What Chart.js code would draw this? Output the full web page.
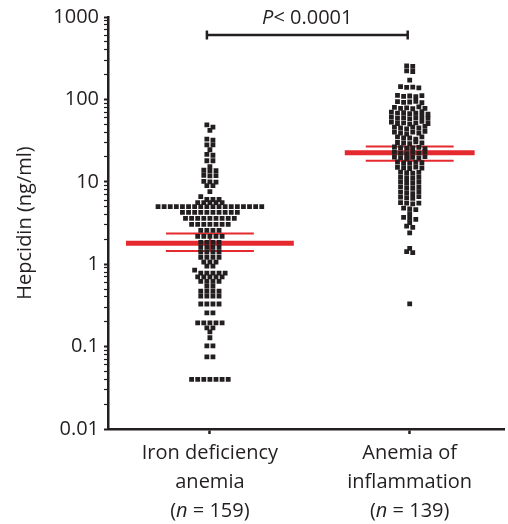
<!DOCTYPE html>
<html>
<head>
<meta charset="utf-8">
<style>
  html, body { margin: 0; padding: 0; background: #ffffff; }
  #wrap { width: 508px; height: 524px; position: relative; }
</style>
<script src="https://cdn.jsdelivr.net/npm/chart.js@4/dist/chart.umd.min.js"></script>
</head>
<body>
<div id="wrap"><canvas id="c" width="508" height="524"></canvas></div>
<script>
// ---------------- data ----------------
const categories = ['Iron deficiency anemia', 'Anemia of inflammation'];
const categoryLines = [['Iron deficiency', 'anemia'], ['Anemia of', 'inflammation']];
const groupN = [159, 139];

// Hepcidin (ng/ml), iron deficiency anemia (n = 159)
const ironDeficiency = [
  49, 46, 42, 33, 32, 28, 28, 24.5, 21.5, 21, 18, 18, 15.3,
  13.8, 13.6, 13.7, 12, 11.8, 11.9, 10.1, 10, 9.9, 9, 9, 7.6, 6.6,
  6.1, 6.1, 6.1, 5.6, 5.6, 5.6, 5.6, 5.6,
  5, 5, 5, 5, 5, 5, 5, 5, 5, 5, 5, 5, 5, 5, 5, 5, 5, 5,
  4.25, 4.25, 4.25, 4.25, 4.25, 4.25, 4.25, 4.25, 4.25, 4.25,
  3.59, 3.59, 3.59, 3.59, 3.59, 3.59, 3.59, 3.59, 3.59,
  3.04, 3.04, 3.04, 3.04, 3.04, 3.04, 3.04,
  2.57, 2.57, 2.57, 2.57,
  2.18, 2.18, 2.18, 2.18, 2.18,
  1.84, 1.84, 1.84, 1.84,
  1.6, 1.6, 1.6, 1.6,
  1.4, 1.4, 1.4, 1.4,
  1.21, 1.21, 1.21, 1.21,
  1.06, 1.06, 1.06,
  0.946, 0.946, 0.846,
  0.778, 0.778, 0.778, 0.778, 0.778,
  0.7, 0.7, 0.7, 0.7, 0.7,
  0.62, 0.62, 0.62, 0.62,
  0.542, 0.542,
  0.472, 0.472, 0.472, 0.472,
  0.411, 0.411, 0.411, 0.411,
  0.329, 0.329, 0.329, 0.329,
  0.256, 0.256,
  0.194, 0.194, 0.194, 0.194, 0.194,
  0.169, 0.169, 0.151, 0.128, 0.102, 0.102, 0.075, 0.075,
  0.04, 0.04, 0.04, 0.04, 0.04, 0.04, 0.04
];

// Hepcidin (ng/ml), anemia of inflammation (n = 139)
const inflammation = [
  255, 251, 222, 218, 171,
  143, 140, 141, 138,
  112, 109, 110, 108, 111,
  94, 92, 93, 95, 91,
  80, 78, 79, 77, 81, 78,
  70, 68, 69, 67, 68, 71, 66,
  61, 59, 60, 58, 60, 62, 59,
  53, 51, 52, 50, 52, 54, 51,
  46, 45, 44, 46, 45, 47,
  40, 39, 38, 40, 39, 41,
  35, 34, 34, 33, 35,
  30, 29.5, 29, 30.5, 29.7,
  26.5, 26, 25.5, 25.8, 26.2, 25.3,
  23, 22.5, 22, 22.8, 22.3, 23.2,
  20, 19.6, 19.2, 19.8, 19.4, 20.2,
  17.4, 17, 16.8, 17.2, 17.1,
  15, 14.8, 14.5, 15.1, 14.7,
  13.1, 12.9, 12.7, 13,
  11.4, 11.2, 11, 11.3,
  10, 9.8, 9.6, 9.9,
  8.7, 8.5, 8.3, 8.6,
  7.5, 7.4, 7.2, 7.6,
  6.5, 6.4, 6.3, 6.6,
  5.6, 5.5, 5.4, 5.5,
  4.8, 4.7, 4.6,
  4.1,
  3.7, 3.6, 3.5,
  3.2,
  2.9, 2.8,
  2.4,
  1.56, 1.42, 1.38,
  0.33
];

// geometric mean with 95% CI per group
const geoMean = [1.8, 22.5];
const ciLow = [1.45, 18.0];
const ciHigh = [2.35, 26.8];

const yTicks = [0.01, 0.1, 1, 10, 100, 1000];
const yTickLabels = ['0.01', '0.1', '1', '10', '100', '1000'];
const yTitle = 'Hepcidin (ng/ml)';
const pText = ['P', '< 0.0001'];

// ---------------- style ----------------
const ink = '#231f20';
const red = '#e42a2e';
const FONT = "'Open Sans', sans-serif";
Chart.defaults.font.family = FONT;
Chart.defaults.color = ink;

const meanHalf = [0.42, 0.325];
const ciHalf = [0.22, 0.22];

function hLine(x, half, y, w) {
  return {
    data: [{x: x - half, y: y}, {x: x + half, y: y}],
    showLine: true, borderColor: red, backgroundColor: red,
    borderWidth: w, pointRadius: 0, order: 2, borderCapStyle: 'butt'
  };
}
function vLine(x, y1, y2, w) {
  return {
    data: [{x: x, y: y1}, {x: x, y: y2}],
    showLine: true, borderColor: red, backgroundColor: red,
    borderWidth: w, pointRadius: 0, order: 2, borderCapStyle: 'butt'
  };
}

const groups = [ironDeficiency, inflammation];
const datasets = [];
groups.forEach((vals, i) => {
  datasets.push({
    label: categories[i],
    data: vals.map(v => ({x: i + 1, y: v})),
    pointStyle: 'rect', pointRadius: 3.4, pointHoverRadius: 3.4,
    backgroundColor: ink, borderWidth: 0, order: 0
  });
});
groups.forEach((vals, i) => {
  const c = i + 1;
  datasets.push(vLine(c, ciLow[i], ciHigh[i], 2));
  datasets.push(hLine(c, ciHalf[i], ciLow[i], 2));
  datasets.push(hLine(c, ciHalf[i], ciHigh[i], 2));
  datasets.push(hLine(c, meanHalf[i], geoMean[i], 5));
});

const textPlugin = {
  id: 'texts',
  afterDraw(chart) {
    const ctx = chart.ctx, xs = chart.scales.x, area = chart.chartArea;
    const fs = 20;
    const normal = `${fs}px ${FONT}`, italic = `italic ${fs}px ${FONT}`;
    function mixed(parts, cx, y) {
      let total = 0;
      parts.forEach(p => { ctx.font = p[1] ? italic : normal; total += ctx.measureText(p[0]).width; });
      let x = cx - total / 2;
      ctx.textAlign = 'left';
      parts.forEach(p => { ctx.font = p[1] ? italic : normal; ctx.fillText(p[0], x, y); x += ctx.measureText(p[0]).width; });
    }
    ctx.save();
    ctx.fillStyle = ink;
    ctx.textBaseline = 'middle';
    categoryLines.forEach((lines, i) => {
      const cx = xs.getPixelForValue(i + 1);
      ctx.font = normal; ctx.textAlign = 'center';
      lines.forEach((t, j) => ctx.fillText(t, cx, area.bottom + 24 + j * 29));
      mixed([['(', false], ['n', true], [' = ' + groupN[i] + ')', false]], cx, area.bottom + 24 + 2 * 29);
    });
    // significance bracket
    const x1 = xs.getPixelForValue(0.985), x2 = xs.getPixelForValue(1.99);
    const by = area.top + 18;
    ctx.strokeStyle = ink; ctx.lineWidth = 2.5; ctx.lineCap = 'butt';
    ctx.beginPath();
    ctx.moveTo(x1, by); ctx.lineTo(x2, by);
    ctx.moveTo(x1, by - 4.5); ctx.lineTo(x1, by + 4.5);
    ctx.moveTo(x2, by - 4.5); ctx.lineTo(x2, by + 4.5);
    ctx.stroke();
    mixed([[pText[0], true], [pText[1], false]], (x1 + x2) / 2, area.top + 1);
    ctx.restore();
  }
};

const chart = new Chart(document.getElementById('c'), {
  type: 'scatter',
  data: { datasets: datasets },
  options: {
    responsive: false, animation: false,
    layout: { padding: { left: 0, top: 15, right: 3, bottom: 89 } },
    plugins: { legend: { display: false }, tooltip: { enabled: false } },
    scales: {
      x: {
        type: 'linear', min: 0.49, max: 2.475,
        afterBuildTicks: s => { s.ticks = [{value: 1}, {value: 2}]; },
        afterFit: s => { s.height = 6; },
        ticks: { display: false },
        grid: { drawOnChartArea: false, drawTicks: true, tickLength: 5, tickColor: ink, tickWidth: 2.5 },
        border: { display: true, color: ink, width: 2.5 }
      },
      y: {
        type: 'logarithmic', min: 0.01, max: 1000,
        afterBuildTicks: s => {
          const t = [];
          yTicks.forEach((d, k) => {
            t.push({value: d, major: true});
            if (k < yTicks.length - 1) for (let m = 2; m <= 9; m++) t.push({value: d * m, major: false});
          });
          s.ticks = t;
        },
        afterFit: s => { s.width = 108; },
        ticks: {
          autoSkip: false, padding: 5, color: ink, font: { size: 20 },
          callback: (v) => { const k = yTicks.indexOf(v); return k >= 0 ? yTickLabels[k] : ''; }
        },
        grid: {
          drawOnChartArea: false, drawTicks: true, tickLength: 4, tickColor: ink,
          tickWidth: c => (c.tick && c.tick.major) ? 2 : 1.2
        },
        border: { display: true, color: ink, width: 2.5 },
        title: { display: true, text: yTitle, color: ink, font: { size: 20 }, padding: { top: 13, bottom: 0 } }
      }
    }
  },
  plugins: [textPlugin]
});

// column-scatter layout: points with nearly equal pixel height share a row,
// and each row is centred on its category (derived from the values via the scales)
function columnScatter(values, center) {
  const ys = chart.scales.y, xs = chart.scales.x;
  const pxPerUnit = xs.getPixelForValue(2) - xs.getPixelForValue(1);
  const pitch = 6.1, tol = 3;
  const items = values.map((v, i) => ({i: i, py: ys.getPixelForValue(v)}))
    .sort((a, b) => a.py - b.py || a.i - b.i);
  const rows = [];
  let cur = null;
  items.forEach(it => {
    if (!cur || it.py - cur.start > tol) { cur = {start: it.py, pts: []}; rows.push(cur); }
    cur.pts.push(it);
  });
  const out = new Array(values.length);
  rows.forEach(r => {
    const n = r.pts.length;
    r.pts.sort((a, b) => a.i - b.i);
    r.pts.forEach((it, j) => { out[it.i] = center + ((j - (n - 1) / 2) * pitch) / pxPerUnit; });
  });
  return out;
}
groups.forEach((vals, i) => {
  const xsw = columnScatter(vals, i + 1);
  chart.data.datasets[i].data = vals.map((v, j) => ({x: xsw[j], y: v}));
});
chart.update('none');
</script>
</body>
</html>
